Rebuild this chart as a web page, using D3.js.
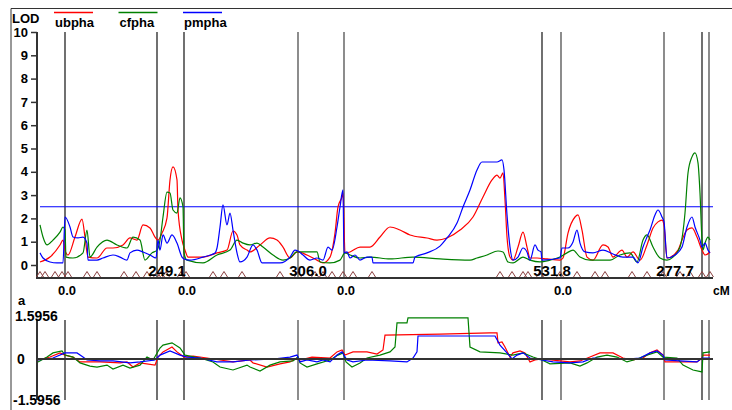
<!DOCTYPE html>
<html>
<head>
<meta charset="utf-8">
<script src="https://cdn.jsdelivr.net/npm/d3@7"></script>
<style>
  body { margin: 0; background: #fff; }
  text { font-family: "Liberation Sans", Arial, sans-serif; font-weight: bold; fill: #000; }
</style>
</head>
<body>
<svg id="chart" width="732" height="410"></svg>
<script>
// positions in cM along the whole map, LOD / effect values
var traits = ["ubpha", "cfpha", "pmpha"];
var traitColors = ["#ff0000", "#008000", "#0000ff"];

var lodUbpha = [[3,0.13],[13,0.34],[23,0.86],[26,1.07],[28,0.64],[31,0.43],[38,1.2],[45,1.97],[48,1.2],[51,0.34],[60,0.3],[70,0.73],[76,0.73],[86,0.86],[93,1.16],[100,1.07],[106,1.72],[113,1.59],[118,1.2],[121,1.07],[125,1.37],[130,2.02],[133,3.65],[136,4.21],[140,3.65],[141,2.36],[145,1.07],[148,0.64],[151,0.34],[166,0.34],[180,0.52],[190,0.64],[196,1.46],[200,1.29],[203,0.86],[210,0.64],[213,0.56],[223,0.86],[233,1.16],[240,1.07],[246,0.77],[253,0.3],[260,0.56],[270,0.43],[280,0.21],[286,0.09],[293,0.34],[298,1.37],[301,2.49],[305,2.92],[306,3.09],[308,0.52],[313,0.56],[323,0.77],[333,0.77],[343,1.2],[353,1.63],[363,1.5],[373,1.29],[390,1.16],[400,1.07],[410,1.16],[423,1.5],[436,2.06],[446,2.92],[455,3.65],[460,3.86],[463,3.73],[466,3.95],[468,2.79],[470,1.2],[473,0.34],[476,0.21],[481,0.77],[486,1.41],[490,0.77],[493,0.3],[500,0.3],[510,0.26],[523,0.21],[526,0.3],[531,1.37],[538,2.06],[541,2.15],[545,1.5],[550,0.34],[556,0.21],[566,0.86],[571,0.77],[576,0.34],[585,0.64],[590,0.34],[596,0.56],[603,0.21],[610,0.86],[616,1.59],[621,1.85],[625,1.93],[627,1.72],[630,0.3],[641,0.64],[645,1.07],[650,1.5],[655,1.59],[660,1.2],[665,0.64],[668,0.43],[673,0.56]];

var lodCfpha = [[3,1.72],[6,1.2],[10,0.86],[16,1.07],[23,1.41],[26,1.63],[28,1.5],[29,0.34],[36,0.3],[46,0.52],[50,1.5],[53,0.34],[60,0.77],[70,1.07],[80,0.86],[90,0.73],[96,1.2],[103,1.07],[108,0.21],[115,0.52],[120,0.64],[123,1.07],[126,2.06],[130,3.13],[133,3.09],[136,2.36],[140,2.23],[143,2.88],[146,2.49],[147,0.52],[150,0.21],[166,0.09],[180,0.43],[193,0.64],[200,1.07],[206,0.94],[213,0.86],[220,0.94],[226,0.77],[236,0.43],[246,0.21],[253,0.3],[260,0.56],[280,0.56],[283,0.13],[293,0.09],[303,0.21],[308,0.52],[313,0.43],[323,0.3],[333,0.34],[353,0.26],[376,0.34],[403,0.26],[433,0.21],[440,0.3],[450,0.43],[461,0.6],[466,0.56],[471,0.13],[476,0.09],[486,0.34],[493,0.21],[503,0.13],[513,0.21],[523,0.34],[530,0.52],[536,0.64],[543,0.34],[553,0.21],[573,0.21],[583,0.43],[593,0.52],[600,0.13],[606,1.07],[610,1.29],[616,0.77],[623,0.3],[630,0.21],[636,0.34],[643,0.77],[648,2.23],[651,3.95],[655,4.64],[658,4.81],[661,4.38],[663,3.09],[665,1.07],[666,0.64],[668,0.94],[671,1.2],[673,1.07]];

var lodPmpha = [[3,0.52],[6,0.3],[13,0.13],[20,0.09],[26,0.09],[28,2.06],[33,1.63],[36,1.2],[41,1.16],[46,1.2],[50,0.94],[51,0.21],[60,0.21],[66,0.3],[76,0.43],[83,0.34],[90,0.21],[93,0.52],[100,0.64],[106,0.56],[113,0.43],[119,0.3],[121,1.07],[123,0.64],[126,1.29],[130,0.94],[135,1.29],[140,0.94],[145,0.34],[147,0.26],[153,0.21],[166,0.34],[178,0.52],[180,0.73],[183,1.63],[186,2.58],[190,1.72],[193,2.23],[196,1.5],[200,0.52],[203,0.13],[210,0.34],[216,0.86],[220,0.64],[225,0.09],[243,0.09],[253,0.34],[258,0.64],[261,0.6],[266,0.43],[273,0.21],[280,0.3],[286,0.21],[291,0.77],[295,0.64],[300,1.63],[303,2.49],[306,3.22],[307,0.52],[310,0.56],[313,0.3],[318,0.43],[323,0.21],[330,0.34],[335,0.34],[336,0.09],[376,0.09],[378,0.34],[390,0.52],[403,0.81],[410,1.16],[420,1.8],[426,2.49],[433,3.22],[440,4.08],[445,4.42],[460,4.42],[465,4.51],[467,4.08],[470,2.15],[473,0.77],[476,0.21],[481,0.34],[486,0.73],[490,0.56],[493,0.21],[498,0.86],[501,0.64],[504,0.56],[505,0.21],[523,0.3],[525,0.73],[531,0.73],[536,0.99],[540,1.5],[543,0.94],[548,0.56],[556,0.52],[566,0.64],[576,0.47],[586,0.34],[596,0.34],[601,0.09],[606,0.77],[610,1.2],[613,1.5],[618,2.15],[621,2.36],[625,2.06],[627,1.85],[630,0.3],[638,0.43],[645,0.77],[650,1.63],[655,2.06],[658,1.63],[663,1.07],[665,0.77],[668,0.94],[671,0.64],[673,0.52]];

var effUbpha = [[1,-0.04],[13,0.08],[23,0.25],[28,0.16],[36,0.08],[43,-0.12],[63,-0.12],[83,-0.16],[90,-0.12],[96,-0.33],[103,-0.16],[118,-0.25],[121,0.08],[126,0.29],[135,0.49],[140,0.29],[147,0.08],[156,0.12],[170,0.04],[183,-0.04],[196,-0.12],[213,-0.04],[216,-0.16],[230,-0.33],[243,-0.2],[253,-0.12],[260,0.04],[263,-0.04],[275,0.08],[293,0.04],[300,0.29],[305,0.37],[308,0.16],[316,0.29],[330,0.29],[340,0.2],[346,0.37],[348,0.98],[403,1.02],[453,1.07],[460,1.07],[461,0.66],[465,0.7],[468,0.49],[473,0.08],[476,0.25],[483,0.33],[488,0.25],[493,-0.12],[498,-0.04],[505,0],[523,-0.08],[533,-0.12],[543,-0.08],[553,0.08],[563,0.25],[576,0.25],[586,0.04],[596,-0.04],[606,0.04],[613,0.25],[620,0.37],[626,0.16],[628,-0.12],[643,-0.12],[660,-0.12],[665,0.04],[666,0.16],[673,0.16]];

var effCfpha = [[1,-0.12],[10,0.08],[16,0.25],[25,0.33],[28,0.16],[36,0.08],[43,-0.16],[53,-0.29],[60,-0.33],[70,-0.25],[76,-0.41],[86,-0.25],[93,-0.37],[103,-0.25],[110,0.08],[116,-0.04],[123,0.45],[126,0.57],[135,0.66],[143,0.45],[148,0.16],[163,0.04],[176,-0.12],[183,-0.33],[196,-0.45],[210,-0.25],[213,-0.33],[223,-0.49],[233,-0.25],[243,-0.12],[256,-0.08],[261,0.08],[263,-0.16],[270,-0.33],[280,-0.2],[293,-0.04],[301,0.16],[306,0.25],[309,-0.12],[315,-0.33],[323,-0.16],[330,0.04],[343,0.16],[353,0.29],[358,0.49],[360,1.48],[370,1.48],[371,1.68],[431,1.68],[433,0.49],[443,0.29],[463,0.25],[476,0.16],[486,0.25],[496,0.08],[505,-0.04],[513,-0.2],[533,-0.16],[543,-0.29],[550,-0.16],[560,0.08],[570,0.16],[580,0.08],[590,-0.12],[600,0],[610,0.16],[620,0.29],[626,0.08],[640,0.04],[646,-0.25],[656,-0.45],[665,-0.53],[666,0.25],[673,0.29]];

var effPmpha = [[1,-0.04],[16,0.04],[28,0.25],[40,0.25],[46,0.08],[50,-0.04],[63,-0.08],[76,-0.08],[93,-0.16],[103,-0.12],[118,-0.04],[123,0.16],[133,0.33],[143,0.16],[150,0.08],[163,0.04],[180,-0.12],[196,-0.12],[213,-0.04],[236,0],[253,0.08],[260,0.16],[263,-0.12],[270,-0.04],[280,-0.12],[286,-0.04],[293,-0.12],[300,0.16],[305,0.29],[310,-0.04],[316,-0.12],[330,-0.04],[353,-0.08],[370,-0.12],[376,0.04],[380,0.29],[381,0.94],[458,0.94],[463,0.57],[470,0.25],[475,0],[480,0.16],[486,0.25],[493,0.04],[505,-0.04],[516,-0.12],[533,-0.16],[546,-0.12],[556,0.04],[576,0],[590,0],[603,0.04],[613,0.25],[620,0.33],[626,0.16],[628,-0.04],[643,-0.08],[660,-0.12],[665,0.04],[673,0.04]];

var lodSeries = [lodUbpha, lodCfpha, lodPmpha];
var effSeries = [effUbpha, effCfpha, effPmpha];

var threshold = 2.5;
var effMax = 1.5956;
var lodTicks = [0,1,2,3,4,5,6,7,8,9,10];

// chromosome boundaries (cM) and whether drawn black or gray
var bounds = [28,120,147,261,307,505,524,627,665,672];
var boundKind = ["k","k","k","g","g","k","g","g","k","g"];
var lenLabels = ["249.1","306.0","531.8","277.7"];
var lenPos = [130,271,515,638];
var zeroPos = [30,150,309,526];
var markers = [3,8,18,25,31,50,60,87,99,110,120,124,129,144,149,176,187,205,243,261,278,286,295,306,316,335,463,475,486,491,503,523,540,558,568,595,610,626,643,653,665,673];

var svg = d3.select("#chart");
var x = d3.scaleLinear().domain([0, 676]).range([37, 713]);
var yLod = d3.scaleLinear().domain([0, 10]).range([265, 32]);
var yEff = d3.scaleLinear().domain([-effMax, effMax]).range([398, 320]);

svg.append("rect").attr("width",732).attr("height",410).attr("fill","#fff");

// frame
svg.append("path").attr("d","M11,410V8.5H732").attr("fill","none").attr("stroke","#333").attr("stroke-width",1);

// ---- top panel: LOD ----
var gTop = svg.append("g");

gTop.selectAll(".bnd").data(bounds).enter().append("line")
    .attr("x1", function(d){ return x(d); }).attr("x2", function(d){ return x(d); })
    .attr("y1", yLod(10)).attr("y2", 277)
    .attr("stroke", function(d,i){ return boundKind[i]=="k" ? "#111" : "#808080"; })
    .attr("stroke-width", function(d,i){ return boundKind[i]=="k" ? 1.2 : 1.8; });

gTop.append("line")
    .attr("x1", x(3)).attr("x2", x(676))
    .attr("y1", yLod(threshold)).attr("y2", yLod(threshold))
    .attr("stroke", "#0000ff").attr("stroke-width", 1.2);

var lodLine = d3.line().curve(d3.curveMonotoneX)
    .x(function(d){ return x(d[0]); }).y(function(d){ return yLod(d[1]); });
gTop.selectAll(".lod").data(lodSeries).enter().append("path")
    .attr("d", lodLine).attr("fill","none")
    .attr("stroke", function(d,i){ return traitColors[i]; })
    .attr("stroke-width", 1.2);

// y axis
var yAxis = d3.axisLeft(yLod).tickValues(lodTicks).tickSize(6).tickPadding(3);
var ya = gTop.append("g").attr("transform","translate(37,0)").call(yAxis);
ya.select(".domain").remove();
ya.selectAll("line").attr("stroke","#333").attr("stroke-width",1.5);
ya.selectAll("text").style("font-size","13px").attr("fill","#000");
gTop.append("line").attr("x1",37).attr("x2",37).attr("y1",yLod(10)).attr("y2",279)
    .attr("stroke","#333").attr("stroke-width",2);

// x axis baseline
gTop.append("line").attr("x1",37).attr("x2",713).attr("y1",278).attr("y2",278)
    .attr("stroke","#333").attr("stroke-width",2);

// marker triangles
gTop.selectAll(".mk").data(markers).enter().append("path")
    .attr("d", function(d){ var c = x(d); return "M"+(c-3.5)+",277L"+c+",271.5L"+(c+3.5)+",277"; })
    .attr("fill","none").attr("stroke","#8b4040").attr("stroke-width",1);

gTop.selectAll(".len").data(lenLabels).enter().append("text")
    .attr("x", function(d,i){ return x(lenPos[i]); }).attr("y", 276)
    .attr("text-anchor","middle").style("font-size","15px")
    .text(function(d){ return d; });

gTop.selectAll(".zero").data(zeroPos).enter().append("text")
    .attr("x", function(d){ return x(d); }).attr("y", 295)
    .attr("text-anchor","middle").style("font-size","13px")
    .text("0.0");
svg.append("text").attr("x",713).attr("y",295).style("font-size","12px").text("cM");

svg.append("text").attr("x",12).attr("y",23).style("font-size","13px").text("LOD");

// legend
var lg = svg.selectAll(".lg").data(traits).enter().append("g")
    .attr("transform", function(d,i){ return "translate(" + (54 + i*64.5) + ",0)"; });
lg.append("line").attr("x1",0).attr("x2",39).attr("y1",12.5).attr("y2",12.5)
    .attr("stroke", function(d,i){ return traitColors[i]; }).attr("stroke-width",1.5);
lg.append("text").attr("x",1).attr("y",27).style("font-size","13px").text(function(d){ return d; });

// ---- bottom panel: additive effect ----
var gBot = svg.append("g");
gBot.selectAll(".bnd2").data(bounds).enter().append("line")
    .attr("x1", function(d){ return x(d); }).attr("x2", function(d){ return x(d); })
    .attr("y1", 320).attr("y2", 400)
    .attr("stroke", function(d,i){ return boundKind[i]=="k" ? "#111" : "#808080"; })
    .attr("stroke-width", function(d,i){ return boundKind[i]=="k" ? 1.2 : 1.8; });

var effLine = d3.line().x(function(d){ return x(d[0]); }).y(function(d){ return yEff(d[1]); });
gBot.selectAll(".eff").data(effSeries).enter().append("path")
    .attr("d", effLine).attr("fill","none")
    .attr("stroke", function(d,i){ return traitColors[i]; })
    .attr("stroke-width", 1.2);

gBot.append("line").attr("x1",37).attr("x2",713).attr("y1",yEff(0)).attr("y2",yEff(0))
    .attr("stroke","#333").attr("stroke-width",2);
gBot.append("line").attr("x1",37).attr("x2",37).attr("y1",320).attr("y2",400)
    .attr("stroke","#333").attr("stroke-width",2);

svg.append("text").attr("x",18).attr("y",305).style("font-size","13px").text("a");
svg.append("text").attr("x",15).attr("y",321).style("font-size","14px").text(effMax.toFixed(4));
svg.append("text").attr("x",17).attr("y",364).style("font-size","14px").text("0");
svg.append("text").attr("x",13).attr("y",405).style("font-size","14px").text((-effMax).toFixed(4));
</script>
</body>
</html>
